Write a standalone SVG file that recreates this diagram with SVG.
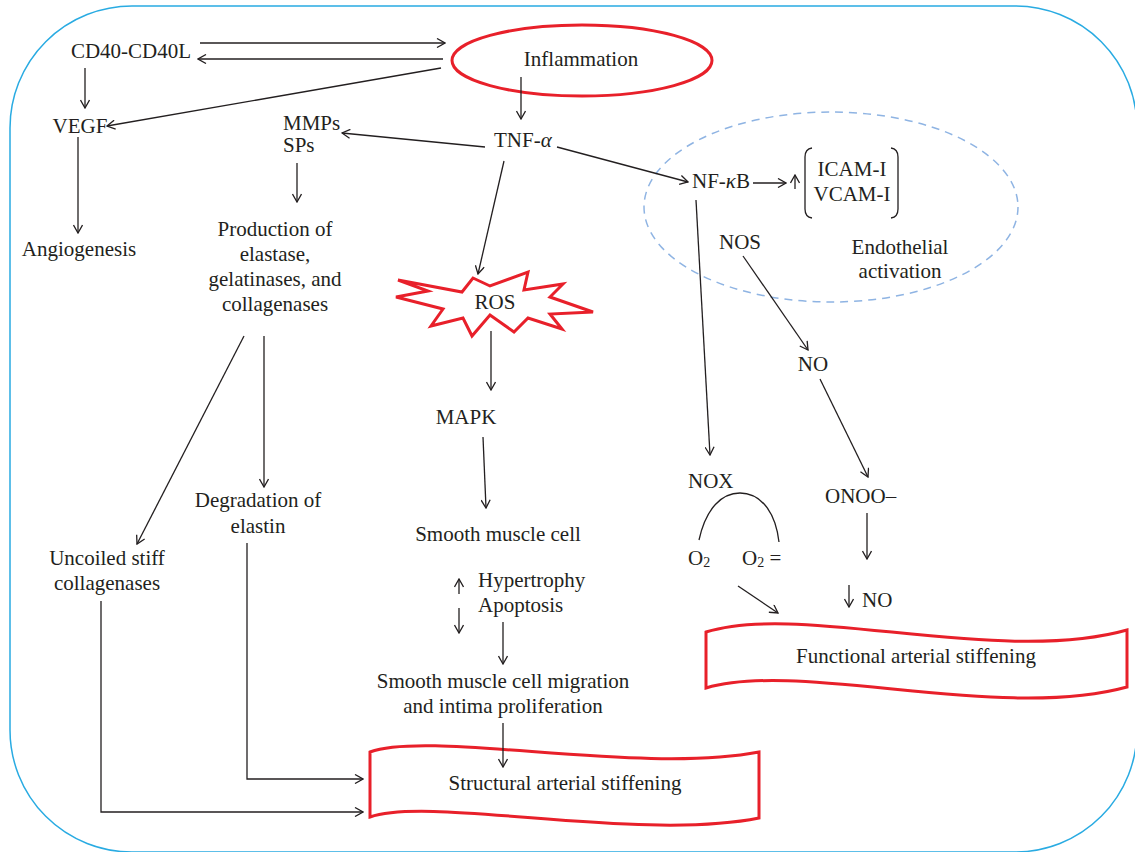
<svg xmlns="http://www.w3.org/2000/svg" width="1135" height="852" viewBox="0 0 1135 852">
<style>
text{font-family:"Liberation Serif","Times New Roman",serif;font-size:21px;fill:#231f20}
.c{text-anchor:middle}
.ln{fill:none;stroke:#231f20;stroke-width:1.3}
.arr{fill:none;stroke:#231f20;stroke-width:1.3;marker-end:url(#ah)}
.red{fill:#fff;stroke:#e8202a;stroke-width:3}
</style>
<defs>
<marker id="ah" viewBox="0 0 10 10" refX="9" refY="5" markerWidth="10" markerHeight="10" markerUnits="userSpaceOnUse" orient="auto">
<path d="M1,0.5 L9,5 L1,9.5" fill="none" stroke="#231f20" stroke-width="1.3"/>
</marker>
</defs>
<rect width="1135" height="852" fill="#fff"/>
<rect x="10" y="6" width="1127" height="846" rx="122" ry="122" fill="none" stroke="#29abe2" stroke-width="1.5"/>
<ellipse id="endothelial-zone" cx="831" cy="207" rx="187" ry="95" fill="none" stroke="#8fb4e3" stroke-width="1.5" stroke-dasharray="8,6"/>

<g id="cd40"><text class="c" x="131" y="58">CD40-CD40L</text></g>
<g id="inflammation">
<ellipse class="red" cx="582" cy="60.5" rx="130" ry="35.5"/>
<text class="c" x="581" y="66">Inflammation</text>
</g>
<g id="vegf"><text class="c" x="80" y="133">VEGF</text></g>
<g id="angiogenesis"><text class="c" x="79" y="256">Angiogenesis</text></g>
<g id="mmps"><text x="283" y="130">MMPs</text><text x="283" y="152">SPs</text></g>
<g id="tnf"><text x="494" y="147">TNF-<tspan font-style="italic">α</tspan></text></g>
<g id="nfkb"><text x="692" y="188">NF-<tspan font-style="italic">κ</tspan>B</text></g>
<g id="icam">
<path class="ln" d="M812,148 Q805,149 805,157 L805,209 Q805,217 812,218"/>
<path class="ln" d="M891,148 Q898,149 898,157 L898,209 Q898,217 891,218"/>
<text class="c" x="852" y="176">ICAM-I</text>
<text class="c" x="852" y="201">VCAM-I</text>
</g>
<g id="nos"><text class="c" x="740" y="249">NOS</text></g>
<g id="endothelial-label"><text class="c" x="900" y="254">Endothelial</text><text class="c" x="900" y="278">activation</text></g>
<g id="no"><text class="c" x="813" y="371">NO</text></g>
<g id="onoo"><text x="825" y="503">ONOO–</text></g>
<g id="no-down"><text x="862" y="607">NO</text></g>
<g id="nox"><text x="688" y="488">NOX</text></g>
<g id="o2"><text x="688" y="565">O<tspan font-size="14" dy="2">2</tspan></text><text x="742" y="565">O<tspan font-size="14" dy="2">2</tspan><tspan dy="-2"> =</tspan></text></g>
<g id="production">
<text class="c" x="275" y="236">Production of</text>
<text class="c" x="275" y="261">elastase,</text>
<text class="c" x="275" y="286">gelatinases, and</text>
<text class="c" x="275" y="311">collagenases</text>
</g>
<g id="ros">
<polygon class="red" stroke-linejoin="miter" points="398,280 462,292 473,278 490,286 528,272 524,290 563,284 550,297 593,312 550,314 562,329 528,318 514,332 490,315 472,336 463,318 431,326 443,309 396,297 428,291"/>
<text class="c" x="495" y="309">ROS</text>
</g>
<g id="mapk"><text class="c" x="466" y="424">MAPK</text></g>
<g id="smc"><text class="c" x="498" y="541">Smooth muscle cell</text></g>
<g id="hypertrophy"><text x="478" y="587">Hypertrophy</text><text x="478" y="612">Apoptosis</text></g>
<g id="migration"><text class="c" x="503" y="688">Smooth muscle cell migration</text><text class="c" x="503" y="713">and intima proliferation</text></g>
<g id="degradation"><text class="c" x="258" y="507">Degradation of</text><text class="c" x="258" y="533">elastin</text></g>
<g id="uncoiled"><text class="c" x="107" y="565">Uncoiled stiff</text><text class="c" x="107" y="590">collagenases</text></g>
<g id="structural">
<path class="red" d="M370,752 C430,730 640,775 759,752 L759,818 C640,842 430,796 370,817 Z"/>
<text class="c" x="565" y="790">Structural arterial stiffening</text>
</g>
<g id="functional">
<path class="red" d="M706,632 C800,602 1000,666 1127,630 L1127,687 C1000,722 800,660 706,688 Z"/>
<text class="c" x="916" y="663">Functional arterial stiffening</text>
</g>

<g id="connectors">
<line class="arr" x1="200" y1="43" x2="445" y2="43"/>
<line class="arr" x1="443" y1="59" x2="198" y2="59"/>
<line class="arr" x1="441" y1="68" x2="107" y2="126"/>
<line class="arr" x1="85" y1="68" x2="85" y2="108"/>
<line class="arr" x1="78" y1="137" x2="78" y2="233"/>
<line class="arr" x1="521" y1="77" x2="521" y2="119"/>
<line class="arr" x1="485" y1="147" x2="342" y2="133"/>
<line class="arr" x1="557" y1="147" x2="688" y2="182"/>
<line class="arr" x1="297" y1="163" x2="297" y2="202"/>
<line class="arr" x1="504" y1="161" x2="478" y2="274"/>
<line class="arr" x1="753" y1="183" x2="786" y2="183"/>
<line class="arr" x1="795" y1="189" x2="795" y2="175"/>
<line class="arr" x1="696" y1="200" x2="710" y2="455"/>
<line class="arr" x1="743" y1="256" x2="808" y2="350"/>
<line class="arr" x1="820" y1="379" x2="868" y2="477"/>
<line class="arr" x1="867" y1="513" x2="867" y2="559"/>
<line class="arr" x1="849" y1="585" x2="849" y2="607"/>
<line class="arr" x1="738" y1="586" x2="778" y2="613"/>
<path class="ln" d="M699,540 C706,508 722,493 740,493 C758,493 775,508 779,542"/>
<line class="arr" x1="491" y1="331" x2="491" y2="390"/>
<line class="arr" x1="483" y1="437" x2="486" y2="508"/>
<line class="arr" x1="459" y1="594" x2="459" y2="579"/>
<line class="arr" x1="459" y1="608" x2="459" y2="633"/>
<line class="arr" x1="503" y1="622" x2="503" y2="664"/>
<line class="arr" x1="503" y1="723" x2="503" y2="767"/>
<line class="arr" x1="264" y1="336" x2="264" y2="487"/>
<line class="arr" x1="244" y1="336" x2="137" y2="544"/>
<polyline class="arr" points="247,543 247,779 363,779"/>
<polyline class="arr" points="101,601 101,812 363,812"/>
</g>
</svg>
